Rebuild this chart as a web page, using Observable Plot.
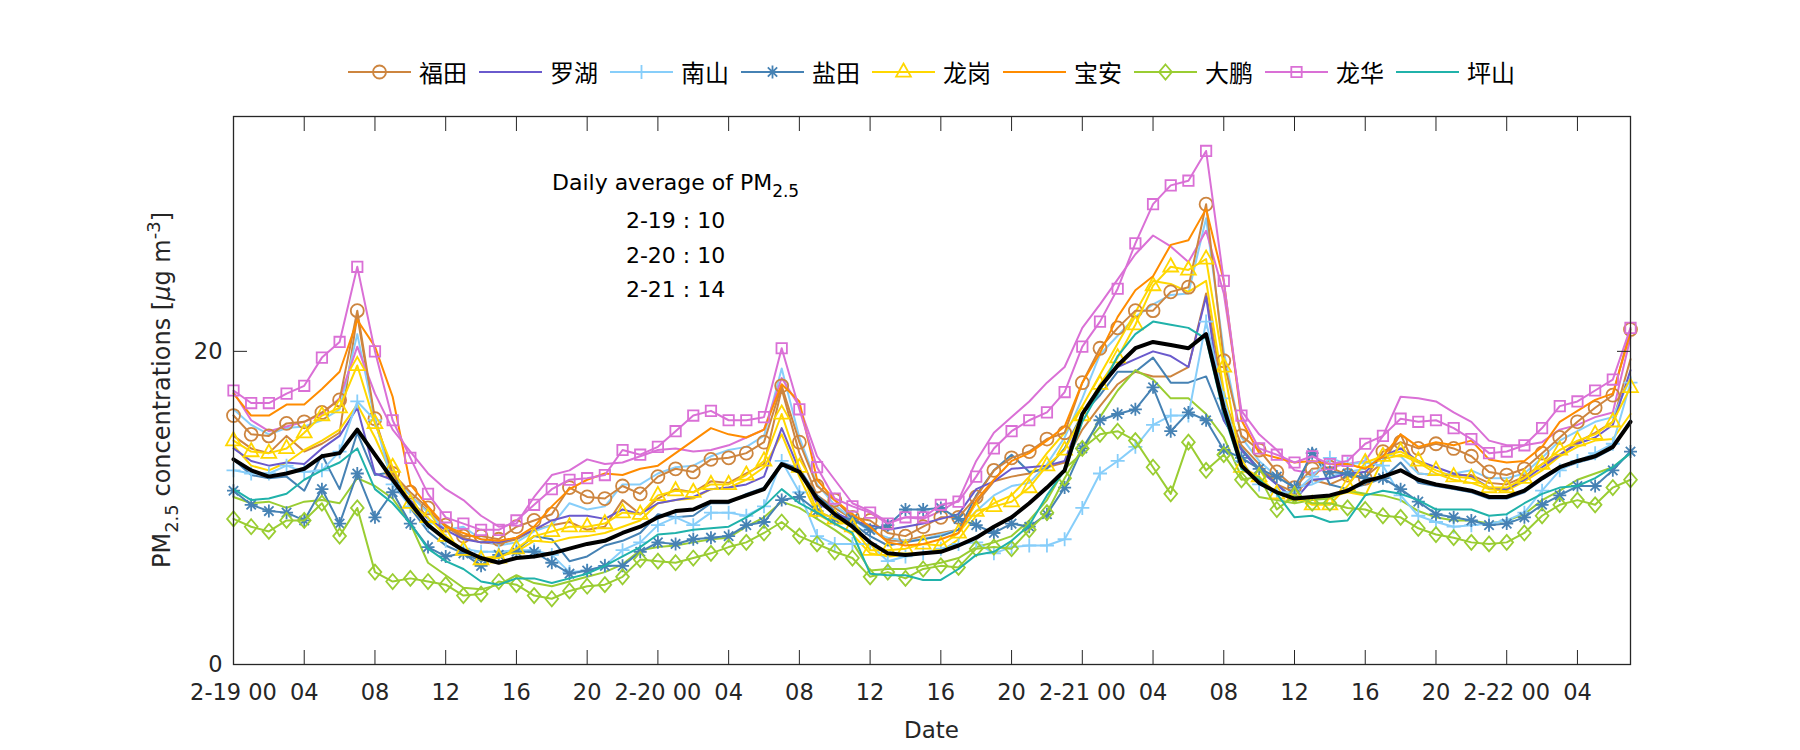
<!DOCTYPE html>
<html><head><meta charset="utf-8">
<script src="https://cdn.jsdelivr.net/npm/d3@7"></script>
<script src="https://cdn.jsdelivr.net/npm/@observablehq/plot@0.6"></script>
<style>
body{margin:0;background:#fff;}
#wrap{width:1800px;height:750px;position:relative;overflow:hidden;}
#legend{height:100px;box-sizing:border-box;padding-top:57px;padding-left:233px;width:1630px;display:flex;justify-content:center;align-items:flex-start;gap:12px;}
.item{display:flex;align-items:center;height:30px;}
.item span{margin-left:8px;font-family:"Noto Sans CJK SC",sans-serif;font-size:24px;color:#000;line-height:30px;}
#chart svg{display:block;}
</style></head>
<body><div id="wrap"><div id="legend"></div><div id="chart"></div></div>
<script>
// ---------- data (hourly, 2-19 00:00 .. 2-22 07:00) ----------
const hours = d3.range(80);
const tickHours = [0,4,8,12,16,20,24,28,32,36,40,44,48,52,56,60,64,68,72,76];
const tickLabels = ["2-19 00","04","08","12","16","20","2-20 00","04","08","12","16","20","2-21 00","04","08","12","16","20","2-22 00","04"];

const futian = [15.9,14.7,14.6,15.4,15.5,16.1,16.9,22.6,15.7,12.2,11.0,10.0,8.9,8.2,8.2,8.0,8.8,
 9.2,9.6,11.3,10.7,10.6,11.4,10.9,12.0,12.5,12.3,13.1,13.2,13.5,14.2,17.8,
 14.2,11.4,10.5,9.4,9.2,8.4,8.2,8.8,9.4,9.4,10.7,12.4,13.2,13.6,14.4,14.8,
 18.0,20.2,21.5,22.6,22.6,23.8,24.1,29.4,19.4,14.6,13.7,12.3,11.3,12.5,12.6,12.1,
 11.9,13.6,14.2,13.8,14.1,13.8,13.3,12.3,12.1,12.5,13.5,14.5,15.5,16.4,17.2,21.4];
const luohu = [13.8,13.0,12.7,12.9,12.8,13.8,14.6,16.4,12.2,11.8,10.5,9.3,8.6,8.0,7.8,7.8,8.1,
 8.6,9.2,9.5,9.5,9.3,9.9,9.6,10.3,10.5,10.7,11.2,11.3,11.5,12.0,15.1,
 12.4,10.3,9.7,9.2,8.9,8.6,8.8,9.0,9.3,9.6,11.2,11.7,12.5,12.6,12.7,13.0,
 16.0,17.7,19.0,19.5,20.0,19.7,19.0,23.5,15.6,13.7,12.4,11.5,10.5,11.8,11.9,12.2,
 12.3,13.3,13.8,13.0,12.6,12.2,12.0,11.3,11.2,11.8,12.6,13.4,14.1,14.5,15.3,18.8];
const nanshan = [12.4,12.2,12.2,12.7,12.3,12.4,13.6,16.8,15.6,11.5,10.1,9.0,7.9,7.4,7.2,7.2,7.3,
 7.3,7.0,5.9,6.0,6.3,7.3,7.8,8.9,9.4,8.9,9.7,9.7,9.5,10.1,13.0,
 11.0,8.2,7.7,7.7,7.7,6.6,6.9,7.1,7.4,7.7,7.8,7.1,7.5,7.6,7.6,8.0,
 10.0,12.2,13.0,13.9,15.3,15.9,15.9,21.9,17.0,13.0,11.5,11.0,11.0,12.0,13.2,12.8,
 12.9,12.7,10.8,9.5,9.1,8.8,8.9,9.0,9.2,9.7,11.1,12.4,13.0,13.5,14.1,18.0];
const yantian = [11.1,10.2,9.8,9.7,9.2,11.2,9.0,12.2,9.4,11.0,9.0,7.5,6.9,7.1,6.3,7.0,7.2,
 7.2,6.5,5.8,6.0,6.3,6.3,7.2,7.8,7.7,8.0,8.1,8.2,8.9,9.1,10.5,
 10.7,9.8,9.3,9.3,8.6,8.9,9.9,9.9,10.0,9.3,8.9,8.4,9.0,8.8,9.6,11.3,
 13.8,15.6,16.0,16.3,17.7,14.9,16.1,15.6,13.7,13.2,12.5,12.0,11.3,13.5,12.3,12.2,
 11.9,11.9,11.2,10.4,9.6,9.4,9.2,8.9,9.0,9.4,10.2,10.8,11.4,11.4,12.4,13.6];
const longgang = [14.3,13.6,13.5,13.8,14.8,15.9,16.4,19.1,15.4,12.6,10.3,9.4,8.2,7.3,6.7,6.8,7.4,
 8.2,8.5,8.8,8.8,9.0,9.7,9.6,10.8,11.1,11.0,11.5,11.5,12.1,13.0,16.0,
 12.6,9.8,9.3,8.8,7.3,7.3,7.4,7.7,7.6,8.4,9.8,10.1,10.4,11.3,12.7,13.7,
 15.9,17.9,19.6,21.7,24.2,25.4,25.2,25.9,19.0,12.6,12.0,10.9,10.8,10.2,10.2,11.4,
 12.9,13.3,13.6,13.0,12.4,12.0,11.9,11.3,11.3,11.9,12.8,13.7,14.3,14.7,15.5,17.7];
const baoan = [17.3,15.9,15.9,16.6,16.6,17.6,18.7,22.0,20.3,17.1,11.5,10.1,8.8,8.4,8.0,7.9,8.1,
 8.8,10.1,11.2,11.8,12.2,12.1,12.5,12.7,13.5,14.3,15.1,14.7,14.5,15.0,17.9,
 16.8,11.8,10.5,9.6,8.8,7.8,7.6,7.7,8.0,8.4,10.5,11.8,13.0,13.5,14.3,15.2,
 18.0,19.9,22.2,23.9,24.8,26.8,27.1,29.1,24.5,15.6,13.5,13.2,12.9,13.0,12.8,12.8,
 12.5,13.3,14.7,13.9,14.2,14.0,14.3,13.1,12.9,13.0,13.9,15.5,16.2,16.9,17.3,21.2];
const dapeng = [9.3,8.8,8.5,9.2,9.2,10.3,8.2,10.0,5.9,5.3,5.5,5.3,5.1,4.4,4.5,5.3,5.1,
 4.4,4.2,4.7,5.0,5.1,5.6,6.7,6.6,6.5,6.8,7.1,7.5,7.8,8.4,9.1,
 8.2,7.7,7.2,6.8,5.6,5.9,5.5,6.1,6.3,6.2,7.4,7.5,7.4,8.6,9.7,11.9,
 13.8,14.7,14.9,14.3,12.6,10.9,14.2,12.4,13.4,11.8,12.0,9.9,10.8,10.3,10.3,10.0,
 9.9,9.5,9.4,8.7,8.3,8.1,7.8,7.7,7.8,8.4,9.5,10.2,10.5,10.2,11.3,11.8];
const longhua = [17.5,16.7,16.7,17.3,17.8,19.6,20.6,25.4,20.0,15.6,13.2,10.9,9.4,9.0,8.6,8.6,9.2,
 10.2,11.2,11.8,11.9,12.1,13.7,13.4,13.9,14.9,15.9,16.2,15.6,15.6,15.8,20.2,
 16.3,12.6,10.6,10.1,9.7,9.0,9.4,9.4,10.2,10.4,12.0,13.8,14.9,15.6,16.1,17.4,
 20.3,21.9,24.0,26.9,29.4,30.6,30.9,32.8,24.5,15.9,13.8,13.4,12.9,13.3,12.8,13.0,
 14.1,14.6,15.7,15.5,15.6,15.1,14.4,13.5,13.6,14.0,15.1,16.5,16.8,17.5,18.2,21.5];
const pingshan = [11.2,10.5,10.6,10.9,11.8,12.4,12.9,13.8,11.2,10.3,9.0,7.4,6.6,6.1,5.3,5.1,5.5,
 5.5,5.2,5.5,5.8,6.3,6.9,7.5,8.3,8.4,8.6,8.7,8.8,9.4,10.1,11.2,
 10.3,9.7,9.0,8.4,5.8,5.7,5.7,5.4,5.4,6.1,7.0,7.2,7.9,8.9,10.8,12.4,
 15.5,17.5,19.7,21.1,21.9,21.7,21.5,20.8,16.0,12.5,11.8,10.9,9.4,9.5,9.1,9.2,
 10.8,11.1,10.9,10.5,9.9,9.9,9.9,9.5,9.6,10.3,10.9,11.3,11.4,11.9,12.6,13.5];
const meanAll = [13.1,12.4,12.0,12.2,12.5,13.3,13.5,15.0,13.4,11.8,10.3,8.9,8.0,7.3,6.8,6.5,6.8,
 6.9,7.1,7.4,7.7,7.9,8.4,8.8,9.4,9.8,9.9,10.4,10.4,10.8,11.2,12.8,
 12.3,10.6,9.6,8.8,7.8,7.1,7.0,7.1,7.2,7.6,8.1,8.8,9.4,10.3,11.3,12.4,
 16.0,17.7,19.1,20.2,20.6,20.4,20.2,21.1,16.4,12.7,11.6,11.0,10.6,10.7,10.8,11.1,
 11.7,12.0,12.4,11.8,11.5,11.3,11.1,10.7,10.7,11.1,11.9,12.6,13.0,13.3,13.9,15.5];
// further stations (drawn without markers, not in legend)
const extraPeru = [14.6,13.8,13.5,14.6,13.6,14.1,14.8,22.3,15.5,12.0,10.8,9.8,8.8,8.1,7.8,7.7,8.0,
 8.6,8.9,9.1,8.6,8.8,10.5,9.6,10.6,11.2,11.0,11.7,11.6,12.2,12.8,17.6,
 13.5,10.8,10.0,9.3,8.7,7.9,7.9,8.2,8.4,8.6,10.3,11.7,12.0,12.2,12.6,12.9,
 15.0,16.5,17.9,18.7,18.4,18.4,19.0,23.7,17.0,14.0,12.8,11.5,11.0,11.8,11.5,12.0,
 12.0,12.9,14.7,12.2,12.1,12.1,12.1,11.6,11.5,12.0,12.8,13.4,14.2,14.8,15.5,19.5];
const extraGold = [14.0,12.7,12.4,12.9,13.7,14.3,15.0,16.6,14.5,12.0,10.0,9.0,8.0,7.2,6.8,6.9,7.2,
 7.9,7.8,8.1,8.2,8.4,8.8,9.2,10.3,10.5,10.6,11.2,11.3,11.8,12.6,14.7,
 12.0,9.6,9.0,8.3,7.1,6.9,7.0,7.1,7.2,8.0,9.5,10.3,10.8,12.0,13.5,14.8,
 16.5,18.5,20.5,22.5,24.5,24.3,23.8,24.5,17.5,12.5,11.8,11.0,10.6,10.5,10.7,11.0,
 10.8,13.1,13.4,12.9,12.2,11.8,11.6,11.2,11.1,11.7,12.4,13.3,13.9,14.3,14.4,16.0];
const extraSky = [16.3,15.3,14.7,15.1,15.2,15.6,16.3,21.1,15.6,12.2,10.8,9.7,8.6,8.8,8.0,7.6,7.8,
 8.5,8.9,10.3,9.9,10.1,11.5,11.5,12.2,12.6,12.7,13.3,13.7,13.9,14.6,18.9,
 14.5,11.5,10.2,9.3,8.5,8.1,7.9,8.0,8.3,8.6,9.8,10.8,11.4,11.6,12.8,14.5,
 17.0,19.8,21.0,22.2,23.0,23.6,23.7,28.5,20.0,14.5,13.0,12.0,11.3,11.5,12.0,12.3,
 12.5,13.4,13.3,12.2,12.1,12.2,12.4,11.9,11.9,12.2,13.2,14.3,14.9,15.5,15.8,18.3];
const extraSteel = [13.1,12.1,11.9,12.0,11.1,13.4,11.2,14.8,12.1,12.3,10.0,8.5,7.6,7.1,6.6,7.0,7.3,
 8.2,8.0,6.6,6.9,7.6,7.9,8.4,9.6,9.4,9.5,10.3,10.3,10.9,11.3,12.9,
 12.5,10.8,9.8,9.0,8.2,7.6,7.8,8.0,8.2,8.6,10.8,12.4,13.4,12.3,12.5,13.8,
 16.0,17.2,18.7,18.7,19.6,18.0,18.0,18.4,15.6,13.8,12.5,11.5,10.6,13.8,11.5,11.2,
 11.5,11.9,12.9,11.6,11.4,11.2,11.0,10.6,10.6,11.0,11.8,12.5,12.9,13.2,13.8,15.6];
const extraGreen = [10.7,10.3,10.4,10.0,10.4,10.5,10.3,11.9,11.4,10.6,9.0,6.5,5.7,4.9,4.8,5.1,5.7,
 5.2,5.0,5.3,5.6,5.9,6.4,7.3,7.5,7.6,7.8,8.0,8.1,8.8,9.4,10.4,
 10.0,9.3,8.6,7.8,6.0,6.1,6.1,6.3,6.5,6.8,7.5,7.8,8.2,9.2,10.5,12.5,
 13.5,15.8,17.5,18.8,18.2,17.0,17.0,16.0,14.5,12.0,10.7,10.5,10.3,10.5,10.6,11.1,
 10.9,10.8,10.5,9.8,9.4,9.2,9.2,9.0,9.2,9.6,10.5,11.1,11.8,12.2,12.6,13.5];
const extraOrchid = [17.4,15.6,14.9,15.2,15.5,16.0,17.0,20.3,17.3,15.0,13.6,12.2,11.2,10.5,9.5,8.8,9.0,
 10.7,12.1,12.4,13.1,12.8,12.9,13.3,13.7,13.8,13.6,13.7,14.0,14.5,15.0,18.3,
 16.5,13.3,11.8,10.3,9.8,9.1,9.4,9.3,9.8,10.5,13.0,14.8,15.8,16.8,18.0,19.0,
 21.5,23.0,24.6,26.2,27.4,26.7,25.7,27.7,23.7,16.2,14.7,13.7,12.4,12.2,12.6,12.8,
 13.0,14.6,17.1,17.0,16.8,16.1,15.5,14.3,14.0,14.0,14.2,15.0,15.3,15.8,16.1,20.9];

const annotLines = ["Daily average of PM2.5", "2-19 : 10", "2-20 : 10", "2-21 : 14"];
const annotHour = 25;
const annotLevel = [30.76, 28.33, 26.1, 23.92];

// ---------- marker shapes (MATLAB-like, size r = half extent) ----------
const R = s => Math.sqrt(s / Math.PI);
const sym = {
  circle: {draw(c, s){ const r = R(s); c.moveTo(r, 0); c.arc(0, 0, r, 0, 2 * Math.PI); }},
  square: {draw(c, s){ const r = R(s); c.rect(-r, -r, 2 * r, 2 * r); }},
  triangle: {draw(c, s){ const r = R(s); c.moveTo(0, -r); c.lineTo(0.87 * r, 0.55 * r); c.lineTo(-0.87 * r, 0.55 * r); c.closePath(); }},
  diamond: {draw(c, s){ const r = R(s); c.moveTo(0, -r); c.lineTo(0.85 * r, 0); c.lineTo(0, r); c.lineTo(-0.85 * r, 0); c.closePath(); }},
  plus: {draw(c, s){ const r = R(s); c.moveTo(-r, 0); c.lineTo(r, 0); c.moveTo(0, -r); c.lineTo(0, r); }},
  star: {draw(c, s){ const r = R(s), q = r * 0.72; c.moveTo(-r, 0); c.lineTo(r, 0); c.moveTo(0, -r); c.lineTo(0, r);
    c.moveTo(-q, -q); c.lineTo(q, q); c.moveTo(-q, q); c.lineTo(q, -q); }}
};

const legendSeries = [
  {name: "福田", values: futian,   color: "#CD853F", symbol: sym.circle,   r: 6.5},
  {name: "罗湖", values: luohu,    color: "#6A5ACD"},
  {name: "南山", values: nanshan,  color: "#87CEFA", symbol: sym.plus,     r: 7},
  {name: "盐田", values: yantian,  color: "#4682B4", symbol: sym.star,     r: 6.5},
  {name: "龙岗", values: longgang, color: "#FFD700", symbol: sym.triangle, r: 8.5},
  {name: "宝安", values: baoan,    color: "#FF8C00"},
  {name: "大鹏", values: dapeng,   color: "#9ACD32", symbol: sym.diamond,  r: 7.5},
  {name: "龙华", values: longhua,  color: "#DA70D6", symbol: sym.square,   r: 5.2},
  {name: "坪山", values: pingshan, color: "#20B2AA"}
];
const extraSeries = [
  {values: extraPeru, color: "#CD853F"},
  {values: extraSky, color: "#87CEFA"},
  {values: extraSteel, color: "#4682B4"},
  {values: extraGold, color: "#FFD700"},
  {values: extraGreen, color: "#9ACD32"},
  {values: extraOrchid, color: "#DA70D6"}
];

const rows = vals => vals.map((v, i) => ({h: hours[i], v}));
const marks = [];
for (const s of extraSeries) marks.push(Plot.line(rows(s.values), {x: "h", y: "v", stroke: s.color, strokeWidth: 2}));
for (const s of legendSeries) {
  marks.push(Plot.line(rows(s.values), {x: "h", y: "v", stroke: s.color, strokeWidth: 2}));
  if (s.symbol) marks.push(Plot.dot(rows(s.values), {x: "h", y: "v", symbol: s.symbol, r: s.r, stroke: s.color, fill: "none", strokeWidth: 1.8}));
}
marks.push(Plot.line(rows(meanAll), {x: "h", y: "v", stroke: "#000", strokeWidth: 4}));

const annot = annotLines.map((t, i) => ({t, h: annotHour, v: annotLevel[i]}));
marks.push(Plot.text(annot, {x: "h", y: "v", text: "t", fontSize: 22, fill: "#000", textAnchor: "middle"}));

const fmt = d => tickLabels[tickHours.indexOf(d)];
marks.push(
  Plot.frame({stroke: "#262626", strokeWidth: 1.3}),
  Plot.axisX({anchor: "bottom", ticks: tickHours, tickSize: -14, tickFormat: () => "", label: null, stroke: "#262626"}),
  Plot.axisX({anchor: "top", ticks: tickHours, tickSize: -14, tickFormat: () => "", label: null, stroke: "#262626"}),
  Plot.axisX({anchor: "bottom", ticks: tickHours, tickSize: 0, tickPadding: 20, tickFormat: fmt, label: null, fill: "#262626"}),
  Plot.axisY({anchor: "left", ticks: [0, 20], tickSize: -14, tickFormat: () => "", label: null, stroke: "#262626"}),
  Plot.axisY({anchor: "right", ticks: [0, 20], tickSize: -14, tickFormat: () => "", label: null, stroke: "#262626"}),
  Plot.axisY({anchor: "left", ticks: [0, 20], tickSize: 0, tickPadding: 11, label: null, fill: "#262626"})
);

const chart = Plot.plot({
  width: 1800, height: 650,
  marginLeft: 233, marginRight: 170, marginTop: 16, marginBottom: 86,
  x: {type: "linear", domain: [0, 79]},
  y: {type: "linear", domain: [0, 35]},
  style: {fontFamily: "'DejaVu Sans', sans-serif", fontSize: "22.5px", color: "#262626", background: "#fff", overflow: "visible"},
  marks
});
document.getElementById("chart").appendChild(chart);

// subscript in annotation
const svg = d3.select(chart);
svg.selectAll("text").each(function() {
  if (this.textContent === "Daily average of PM2.5") {
    const t = d3.select(this); t.text("");
    t.append("tspan").text("Daily average of PM");
    t.append("tspan").attr("dy", "0.42em").attr("font-size", "17px").text("2.5");
  }
});
// axis titles
const ylab = svg.append("text").attr("transform", "translate(170,290) rotate(-90)")
  .attr("text-anchor", "middle").attr("font-size", "24px").attr("fill", "#262626");
ylab.append("tspan").text("PM");
ylab.append("tspan").attr("dy", 8).attr("font-size", "18px").text("2.5");
ylab.append("tspan").attr("dy", -8).text(" concentrations [");
ylab.append("tspan").attr("font-style", "italic").text("μ");
ylab.append("tspan").text("g m");
ylab.append("tspan").attr("dy", -10).attr("font-size", "18px").text("-3");
ylab.append("tspan").attr("dy", 10).text("]");
svg.append("text").attr("x", (233 + 1630) / 2).attr("y", 638).attr("text-anchor", "middle")
  .attr("font-size", "23px").attr("fill", "#262626").text("Date");

// legend
const leg = d3.select("#legend");
for (const s of legendSeries) {
  const item = leg.append("div").attr("class", "item");
  const sv = item.append("svg").attr("width", 63).attr("height", 30);
  sv.append("line").attr("x1", 0).attr("x2", 63).attr("y1", 15).attr("y2", 15).attr("stroke", s.color).attr("stroke-width", 2);
  if (s.symbol) sv.append("path").attr("transform", "translate(31.5,15)")
    .attr("d", d3.symbol(s.symbol, Math.PI * s.r * s.r)()).attr("fill", "none").attr("stroke", s.color).attr("stroke-width", 1.8);
  item.append("span").text(s.name);
}
</script></body></html>
